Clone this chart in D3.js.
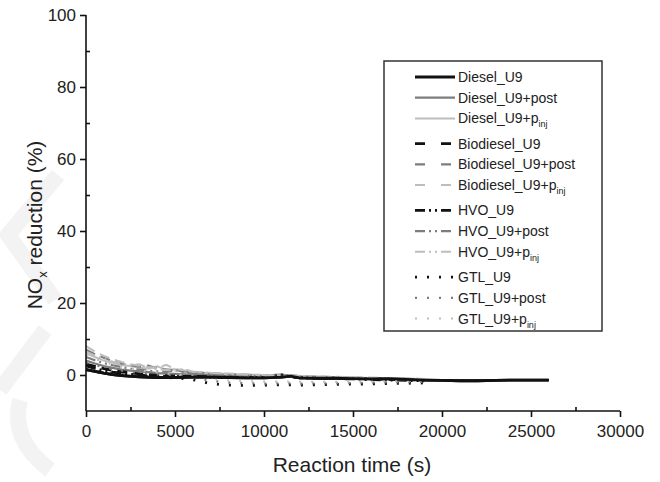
<!DOCTYPE html>
<html>
<head>
<meta charset="utf-8">
<script src="https://cdn.jsdelivr.net/npm/d3@7"></script>
<style>
  body { margin: 0; background: #fff; }
  text { font-family: "Liberation Sans", Arial, sans-serif; fill: #222; }
</style>
</head>
<body>
<div id="chart"></div>
<script>
// DATA
const times = [0, 500, 1000, 1500, 2000, 2500, 3000, 3500, 4000, 4500, 5000, 5500, 6000,
  7000, 8000, 9000, 10000, 11000, 12000, 13000, 14000, 15000, 16000, 17000, 18000, 19000];

const dieselTimes = [0, 500, 1000, 1500, 2000, 3000, 4000, 5000, 6000, 7000, 8000, 9000, 10000,
  11000, 11500, 12000, 13000, 14000, 15000, 16000, 17000, 18000, 19000, 20000, 21000, 22000,
  23000, 24000, 25000, 26000];
const dieselU9 = [1.5, 1.0, 0.5, 0.1, -0.2, -0.5, -0.7, -0.7, -0.6, -0.6, -0.7, -0.8, -0.8,
  -0.6, -0.3, -0.8, -0.9, -0.9, -1.0, -1.1, -1.0, -1.2, -1.4, -1.5, -1.6, -1.6,
  -1.5, -1.4, -1.4, -1.4];

const dieselPost = [4.0, 3.2, 2.5, 2.0, 1.5, 1.2, 1.0, 0.8, 0.5, 0.4, 0.3, 0.2, 0.1, 0.0, -0.2, -0.3, -0.4, -0.3, -0.6, -0.7, -0.8, -0.9, -1.0, -1.1, -1.2, -1.3];
const dieselPinj = [6.0, 5.0, 4.0, 3.4, 2.8, 2.5, 2.0, 1.8, 2.4, 1.5, 1.6, 1.0, 0.8, 0.5, 0.3, 0.1, 0.0, -0.1, -0.3, -0.4, -0.6, -0.7, -0.8, -0.9, -1.0, -1.1];
const bioU9 = [3.0, 2.4, 1.8, 1.3, 0.9, 0.6, 0.3, 0.1, -0.1, -0.2, -0.3, -0.4, -0.4, -0.5, -0.6, -0.7, -0.6, -0.2, -0.7, -0.8, -0.9, -1.0, -1.1, -1.2, -1.3, -1.4];
const bioPost = [7.0, 5.8, 4.8, 3.9, 3.2, 2.7, 2.3, 2.6, 1.8, 1.5, 1.2, 1.0, 0.8, 0.4, 0.2, 0.0, -0.1, 0.1, -0.3, -0.5, -0.6, -0.8, -0.9, -1.0, -1.1, -1.2];
const bioPinj = [8.0, 6.5, 5.3, 4.4, 3.6, 3.0, 2.6, 2.2, 2.0, 2.8, 1.7, 1.3, 1.0, 0.6, 0.4, 0.2, 0.0, -0.1, -0.2, -0.4, -0.5, -0.6, -0.7, -0.9, -1.0, -1.1];
const hvoU9 = [2.5, 1.8, 1.2, 0.8, 0.5, 0.2, 0.0, -0.2, -0.3, -0.4, -0.4, -0.5, -0.5, -0.6, -0.6, -0.7, -0.7, 0.0, -0.8, -0.9, -1.0, -1.1, -1.3, -1.4, -1.5, -1.6];
const hvoPost = [5.0, 4.1, 3.3, 2.7, 2.2, 1.8, 1.5, 1.2, 1.0, 0.8, 1.4, 0.6, 0.4, 0.2, 0.0, -0.2, -0.3, -0.2, -0.5, -0.6, -0.7, -0.8, -0.9, -1.1, -1.2, -1.3];
const hvoPinj = [6.5, 5.4, 4.5, 3.7, 3.1, 2.6, 3.0, 1.9, 1.6, 1.4, 1.2, 1.7, 0.9, 0.6, 0.3, 0.1, -0.1, -0.2, -0.3, -0.5, -0.6, -0.7, -0.8, -0.9, -1.0, -1.2];
const gtlU9 = [1.5, 1.0, 0.6, 0.3, 0.0, -0.2, -0.4, -0.5, -0.6, -0.7, -0.8, -1.0, -1.3, -2.4, -2.8, -2.9, -2.8, -2.7, -2.8, -2.7, -2.6, -2.5, -2.5, -2.4, -2.3, -2.2];
const gtlPost = [3.5, 2.8, 2.1, 1.6, 1.2, 0.9, 0.6, 0.4, 0.2, 0.0, -0.2, -0.4, -0.7, -1.6, -2.1, -2.3, -2.4, -2.3, -2.4, -2.3, -2.3, -2.2, -2.1, -2.0, -2.0, -1.9];
const gtlPinj = [5.5, 4.5, 3.6, 2.9, 2.3, 1.8, 1.4, 1.0, 0.7, 0.4, 0.2, 0.0, -0.2, -1.0, -1.5, -1.7, -1.8, -1.8, -1.9, -1.9, -1.9, -1.8, -1.8, -1.7, -1.7, -1.6];

// legend labels: [main text, subscript]
const labels = [
  ["Diesel_U9", ""], ["Diesel_U9+post", ""], ["Diesel_U9+p", "inj"],
  ["Biodiesel_U9", ""], ["Biodiesel_U9+post", ""], ["Biodiesel_U9+p", "inj"],
  ["HVO_U9", ""], ["HVO_U9+post", ""], ["HVO_U9+p", "inj"],
  ["GTL_U9", ""], ["GTL_U9+post", ""], ["GTL_U9+p", "inj"]
];
const seriesValues = [dieselU9, dieselPost, dieselPinj, bioU9, bioPost, bioPinj,
  hvoU9, hvoPost, hvoPinj, gtlU9, gtlPost, gtlPinj];

const xTicks = [0, 5000, 10000, 15000, 20000, 25000, 30000];
const yTicks = [0, 20, 40, 60, 80, 100];

// STYLES
const colors = ["#111", "#7d7d7d", "#bdbdbd"];
const widths = [2.8, 2.2, 2.0];
const dashes = [null, "10,16", "10,4,2,4,2,4", "2,10"];

// DIMENSIONS
const W = 660, H = 482;
const x = d3.scaleLinear().domain([0, 30000]).range([86, 620]);
const y = d3.scaleLinear().domain([-10, 100]).range([411, 15]);

const svg = d3.select("#chart").append("svg")
  .attr("width", W).attr("height", H);

// faint watermark shapes on the left
const wm = svg.append("g").style("fill", "none").style("stroke", "#f3f3f3").style("stroke-width", 16);
wm.append("path").attr("d", "M58,175 L8,235 L55,300");
wm.append("path").attr("d", "M45,330 L0,390");
wm.append("path").attr("d", "M50,470 Q10,440 20,400");

// LINES
const line = d3.line().x(d => x(d[0])).y(d => y(d[1]));

seriesValues.forEach((vals, i) => {
  const t = i === 0 ? dieselTimes : times;
  const data = vals.map((v, k) => [t[k], v]);
  const group = Math.floor(i / 3), shade = i % 3;
  svg.append("path")
    .datum(data)
    .attr("d", line)
    .style("fill", "none")
    .style("stroke", colors[shade])
    .style("stroke-width", widths[shade])
    .style("stroke-dasharray", group === 1 ? "10,6" : dashes[group]);
});
// redraw main diesel line on top
svg.append("path")
  .datum(dieselU9.map((v, k) => [dieselTimes[k], v]))
  .attr("d", line)
  .style("fill", "none").style("stroke", colors[0]).style("stroke-width", widths[0]);

// AXES
const xAxis = svg.append("g")
  .attr("transform", `translate(0, ${y(-10)})`)
  .call(d3.axisBottom(x).tickValues(xTicks).tickSize(6).tickPadding(4).tickFormat(d3.format("d")));
const xMinor = svg.append("g")
  .attr("transform", `translate(0, ${y(-10)})`)
  .call(d3.axisTop(x).tickValues(d3.range(2500, 30000, 5000)).tickSize(4).tickFormat(""));
xMinor.select(".domain").remove();

const yAxis = svg.append("g")
  .attr("transform", `translate(${x(0)}, 0)`)
  .call(d3.axisLeft(y).tickValues(yTicks).tickSize(6).tickPadding(4));
const yMinor = svg.append("g")
  .attr("transform", `translate(${x(0)}, 0)`)
  .call(d3.axisRight(y).tickValues([10, 30, 50, 70, 90]).tickSize(4).tickFormat(""));
yMinor.select(".domain").remove();

xAxis.select(".domain").attr("d", `M${x(0)},0H${x(30000)}`);
yAxis.select(".domain").attr("d", `M0,${y(100)}V${y(-10)}`);

svg.selectAll(".domain, .tick line").style("stroke", "#111").style("stroke-width", 1.6);
svg.selectAll(".tick text").style("font-size", "17px").style("fill", "#222");
xAxis.selectAll(".tick text").attr("dy", "0.95em");

// AXIS TITLES
svg.append("text")
  .attr("x", 352).attr("y", 472)
  .attr("text-anchor", "middle")
  .style("font-size", "21px")
  .text("Reaction time (s)");

const yt = svg.append("text")
  .attr("transform", "translate(42, 225) rotate(-90)")
  .attr("text-anchor", "middle")
  .style("font-size", "21px");
yt.append("tspan").text("NO");
yt.append("tspan").attr("dy", 5).style("font-size", "13px").text("x");
yt.append("tspan").attr("dy", -5).text(" reduction (%)");

// LEGEND
const legend = svg.append("g");
legend.append("rect")
  .attr("x", 384).attr("y", 61).attr("width", 218).attr("height", 270)
  .style("fill", "#fff").style("stroke", "#333").style("stroke-width", 1.5);

labels.forEach((lab, i) => {
  const group = Math.floor(i / 3), shade = i % 3;
  const ry = 77 + group * 66.7 + shade * 20.7;
  legend.append("line")
    .attr("x1", 415).attr("x2", 455).attr("y1", ry).attr("y2", ry)
    .style("stroke", colors[shade])
    .style("stroke-width", widths[shade])
    .style("stroke-dasharray", dashes[group]);
  const t = legend.append("text")
    .attr("x", 458).attr("y", ry + 5)
    .style("font-size", "14px");
  t.append("tspan").text(lab[0]);
  if (lab[1]) t.append("tspan").attr("dy", 4).style("font-size", "9px").text(lab[1]);
});
</script>
</body>
</html>
